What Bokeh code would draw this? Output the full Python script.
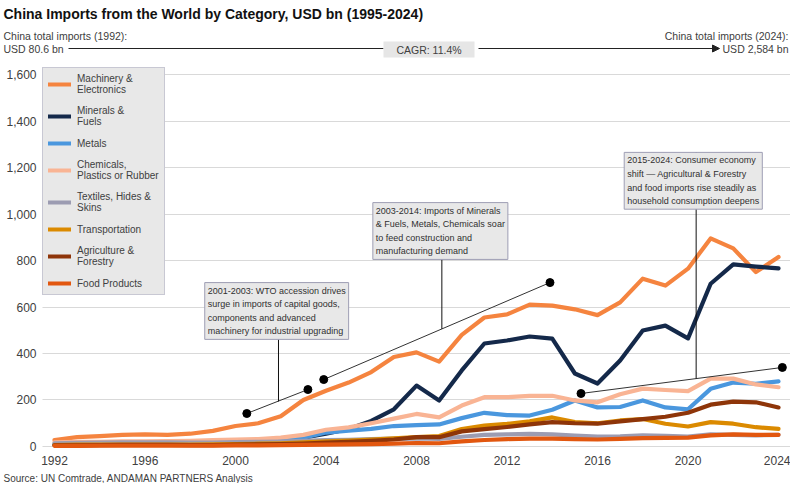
from bokeh.plotting import figure
from bokeh.models import (Range1d, FixedTicker, NumeralTickFormatter, Legend, LegendItem,
                          Label, Arrow, NormalHead, BoxAnnotation)
from bokeh.embed import file_html
from bokeh.resources import INLINE

FONT = "'Liberation Sans', Arial, sans-serif"

# ---------------- data ----------------
years = list(range(1992, 2025))
x_ticks = years[::4]
y_ticks = [0, 200, 400, 600, 800, 1000, 1200, 1400, 1600]

machinery = [28, 40, 45, 50, 52, 50, 55, 67, 88, 100, 130, 200, 240, 275, 320, 385, 405, 365,
             480, 555, 568, 610, 606, 590, 565, 620, 722, 692, 765, 895, 852, 750, 815]
minerals = [8, 9, 10, 11, 13, 15, 12, 15, 22, 22, 25, 38, 55, 75, 110, 160, 262, 198,
            327, 443, 456, 473, 464, 314, 271, 370, 499, 520, 465, 700, 783, 774, 766]
metals = [10, 15, 13, 13, 14, 14, 14, 16, 20, 22, 27, 38, 60, 68, 76, 88, 92, 95,
          122, 145, 135, 133, 158, 198, 168, 170, 198, 168, 160, 248, 275, 270, 280]
chemicals = [18, 20, 20, 22, 22, 23, 24, 27, 30, 32, 38, 50, 72, 82, 100, 120, 140, 125,
             176, 212, 212, 218, 218, 198, 190, 225, 249, 243, 238, 292, 292, 267, 255]
textiles = [14, 16, 17, 18, 18, 18, 17, 17, 19, 20, 21, 24, 27, 29, 32, 34, 35, 33,
            42, 50, 52, 54, 52, 47, 43, 44, 48, 46, 43, 52, 50, 48, 50]
transport = [6, 8, 8, 8, 8, 8, 8, 9, 10, 12, 14, 18, 22, 25, 30, 35, 40, 45,
             75, 90, 97, 108, 125, 105, 100, 112, 118, 98, 86, 105, 98, 83, 76]
agriculture = [5, 5, 6, 7, 7, 7, 6, 6, 8, 9, 10, 13, 17, 20, 24, 30, 40, 40,
               65, 75, 84, 95, 105, 100, 98, 108, 118, 128, 145, 180, 193, 190, 168]
food = [3, 3, 4, 4, 4, 4, 4, 4, 5, 5, 6, 7, 8, 9, 10, 12, 15, 14,
        22, 28, 32, 34, 34, 32, 30, 33, 36, 37, 38, 48, 52, 50, 50]

series_names = ["Machinery &\nElectronics", "Minerals &\nFuels", "Metals",
                "Chemicals,\nPlastics or Rubber", "Textiles, Hides &\nSkins",
                "Transportation", "Agriculture &\nForestry", "Food Products"]
series_values = [machinery, minerals, metals, chemicals, textiles, transport, agriculture, food]
series_colors = ["#F5843F", "#14294A", "#4A97DE", "#F9B494", "#9C9CB2",
                 "#DB8A00", "#8E3509", "#E2570F"]

TITLE = "China Imports from the World by Category, USD bn (1995-2024)"
LEFT_1 = "China total imports (1992):"
LEFT_2 = "USD 80.6 bn"
RIGHT_1 = "China total imports (2024):"
RIGHT_2 = "USD 2,584 bn"
CAGR = "CAGR: 11.4%"
SOURCE = "Source: UN Comtrade, ANDAMAN PARTNERS Analysis"

callout_texts = [
    "2001-2003: WTO accession drives\nsurge in imports of capital goods,\ncomponents and advanced\nmachinery for industrial upgrading",
    "2003-2014: Imports of Minerals\n& Fuels, Metals, Chemicals soar\nto feed construction and\nmanufacturing demand",
    "2015-2024: Consumer economy\nshift \u2014 Agricultural & Forestry\nand food imports rise steadily as\nhousehold consumption deepens",
]
callout_x = [1998.64, 2006.07, 2017.18]
callout_y = [705, 1049, 1265]
slant_x0 = [2000.5, 2003.9, 2015.27]
slant_y0 = [142, 288, 228]
slant_x1 = [2003.2, 2013.9, 2024.17]
slant_y1 = [245, 705, 340]
stem_x = [2001.9, 2009.12, 2020.36]
stem_y0 = [705, 1049, 1265]
stem_y1 = [194, 506, 292]

# ---------------- geometry (pixels; the frame covers the whole canvas) ----------------
W, H = 790, 483
X0, X1 = 1989.613, 2024.530      # data x at canvas left / right
Y0, Y1 = -159.14, 1918.28        # data y at canvas bottom / top
TXT = "#404040"


def px_x(fx):
    return X0 + fx * (X1 - X0) / W


def px_y(fy):
    return Y1 - fy * (Y1 - Y0) / H


p = figure(width=W, height=H, x_range=Range1d(X0, X1), y_range=Range1d(Y0, Y1),
           toolbar_location=None, output_backend="svg", min_border=0,
           outline_line_color=None)
p.xgrid.visible = False
p.ygrid.visible = False

for ax in (p.xaxis[0], p.yaxis[0]):
    ax.axis_line_color = None
    ax.minor_tick_line_color = None
    ax.major_tick_out = 0
    ax.minor_tick_out = 0
    ax.minor_tick_in = 0
    ax.major_label_text_font = FONT
    ax.major_label_text_font_size = "12px"
    ax.major_label_text_color = TXT

xax, yax = p.xaxis[0], p.yaxis[0]
xax.ticker = FixedTicker(ticks=x_ticks)
xax.fixed_location = px_y(450)
xax.major_tick_line_color = None
xax.major_tick_in = 0
xax.major_label_standoff = 5

yax.ticker = FixedTicker(ticks=y_ticks)
yax.formatter = NumeralTickFormatter(format="0,0")
yax.fixed_location = px_x(42)
yax.major_label_standoff = 6
# horizontal gridlines drawn as the axis' inward ticks, beneath the data
yax.major_tick_line_color = "#D9D9D9"
yax.major_tick_line_width = 1
yax.major_tick_in = 748
yax.level = "underlay"

renderers = []
for vals, col in zip(series_values, series_colors):
    r = p.line(years, vals, line_color=col, line_width=4.2, line_join="round", line_cap="round")
    renderers.append(r)

# leader lines and dots
p.segment(x0=slant_x0, y0=slant_y0, x1=slant_x1, y1=slant_y1, line_color="#333333", line_width=1)
p.segment(x0=stem_x, y0=stem_y0, x1=stem_x, y1=stem_y1, line_color="#111111", line_width=1)
p.scatter(slant_x0 + slant_x1, slant_y0 + slant_y1, size=8, color="#000000")

for txt, cx, cy in zip(callout_texts, callout_x, callout_y):
    p.add_layout(Label(x=cx, y=cy, text=txt, text_font=FONT, text_font_size="9px",
                       text_color="#303030", text_align="left", text_baseline="top",
                       text_line_height=1.36,
                       background_fill_color="#E8E8E8", background_fill_alpha=1,
                       border_line_color="#9E9EB4", border_line_width=1, padding=3))

legend = Legend(items=[LegendItem(label=n, renderers=[r]) for n, r in zip(series_names, renderers)],
                location=(42, 188), margin=0, padding=5, spacing=10,
                label_text_font=FONT, label_text_font_size="10px", label_text_color=TXT,
                label_text_line_height=1.2, label_height=12,
                glyph_width=23, glyph_height=8, label_standoff=6,
                background_fill_color="#E8E8E8", background_fill_alpha=1,
                border_line_color="#A8A8BE", border_line_width=1)
p.add_layout(legend)


# ---------------- header / footer ----------------
def add_text(fx, fy, text, size, align="left", style="normal", color=TXT):
    p.add_layout(Label(x=px_x(fx), y=px_y(fy), text=text, text_font=FONT,
                       text_font_size=size, text_font_style=style, text_color=color,
                       text_align=align, text_baseline="middle"))


add_text(3, 13, TITLE, "14px", style="bold", color="#111111")
add_text(3, 35, LEFT_1, "10.5px")
add_text(3, 48, LEFT_2, "10.5px")
add_text(788, 35, RIGHT_1, "10.5px", align="right")
add_text(788, 48, RIGHT_2, "10.5px", align="right")

p.add_layout(Arrow(end=None, x_start=px_x(68), y_start=px_y(48), x_end=px_x(383), y_end=px_y(48),
                   line_color="#222222", line_width=1))
p.add_layout(BoxAnnotation(left=px_x(383), right=px_x(474), top=px_y(41), bottom=px_y(57),
                           fill_color="#E6E6E6", fill_alpha=1, line_color=None))
add_text(428.5, 49, CAGR, "10.5px", align="center")
p.add_layout(Arrow(end=NormalHead(size=7, fill_color="#222222", line_color="#222222"),
                   x_start=px_x(478), y_start=px_y(48), x_end=px_x(719), y_end=px_y(48),
                   line_color="#222222", line_width=1))

add_text(3, 478, SOURCE, "10px")

open("out.html", "w").write(file_html(p, INLINE))
